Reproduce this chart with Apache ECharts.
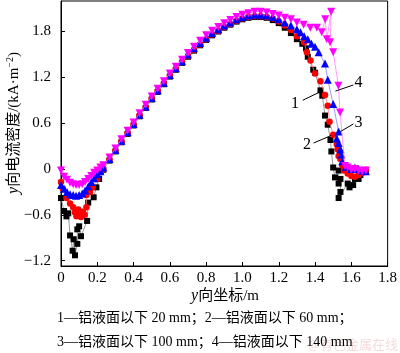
<!DOCTYPE html>
<html><head><meta charset="utf-8">
<script src="https://cdn.jsdelivr.net/npm/echarts@6/dist/echarts.min.js"></script>
<style>html,body{margin:0;padding:0;background:#fff}#c{width:400px;height:353px}</style>
</head><body><div id="c"></div>
<script>
// x tick labels & y tick labels
const xTicks = [0, 0.2, 0.4, 0.6, 0.8, 1.0, 1.2, 1.4, 1.6, 1.8];
const yTicks = [-1.2, -0.6, 0, 0.6, 1.2, 1.8];
const seriesNames = ['1', '2', '3', '4'];
const legendLines = ['1—铝液面以下 20 mm；2—铝液面以下 60 mm；', '3—铝液面以下 100 mm；4—铝液面以下 140 mm'];

// shared x positions of the main (smooth) part
const mainX = [0.267,0.300,0.333,0.367,0.400,0.433,0.467,0.500,0.533,0.567,0.600,0.633,0.667,0.700,0.733,0.767,0.800,0.833,0.867,0.900,0.933,0.967,1.000,1.033,1.067,1.100,1.133,1.167,1.200,1.233,1.267];

// series 1 (20 mm)
const dip1X = [0.000,0.017,0.030,0.040,0.050,0.064,0.070,0.077,0.090,0.090,0.100,0.110,0.144,0.150,0.180,0.195,0.210,0.233];
const dip1Y = [-0.38,-0.55,-0.62,-0.58,-0.87,-1.07,-0.92,-1.13,-0.98,-0.79,-0.75,-0.88,-0.68,-0.44,-0.37,-0.24,-0.13,-0.01];
const main1Y = [0.11,0.23,0.35,0.46,0.57,0.69,0.80,0.91,1.01,1.11,1.21,1.30,1.39,1.47,1.55,1.62,1.69,1.75,1.80,1.85,1.89,1.93,1.96,1.98,1.99,1.99,1.98,1.95,1.91,1.85,1.78];
const tail1X = [1.300,1.330,1.350,1.360,1.390,1.400,1.430,1.440,1.455,1.470,1.485,1.490,1.500,1.510,1.530,1.530,1.540,1.540,1.530,1.580,1.590,1.610,1.620,1.640,1.650,1.670,1.680];
const tail1Y = [1.70,1.64,1.58,1.47,1.30,1.26,1.03,0.96,0.70,0.58,0.38,0.23,0.02,-0.11,-0.02,-0.19,-0.13,-0.30,-0.38,-0.19,-0.24,-0.21,-0.13,-0.13,-0.08,-0.04,-0.02];

// series 2 (60 mm)
const dip2X = [0.000,0.010,0.030,0.050,0.067,0.077,0.085,0.095,0.100,0.110,0.120,0.130,0.140,0.140,0.160,0.175,0.200,0.220,0.233];
const dip2Y = [-0.17,-0.26,-0.38,-0.45,-0.50,-0.57,-0.62,-0.53,-0.60,-0.63,-0.56,-0.60,-0.50,-0.34,-0.30,-0.24,-0.13,-0.04,0.00];
const main2Y = [0.12,0.24,0.36,0.47,0.58,0.70,0.81,0.92,1.02,1.12,1.22,1.31,1.40,1.48,1.56,1.63,1.70,1.76,1.81,1.86,1.90,1.94,1.97,1.99,2.00,2.00,1.99,1.97,1.93,1.88,1.82];
const tail2X = [1.300,1.340,1.355,1.375,1.400,1.430,1.455,1.470,1.480,1.500,1.520,1.525,1.530,1.540,1.550,1.560,1.580,1.600,1.620,1.640,1.660,1.680];
const tail2Y = [1.74,1.66,1.53,1.42,1.25,1.15,0.97,0.83,0.62,0.45,0.32,0.26,0.17,0.13,0.05,-0.02,-0.06,-0.09,-0.10,-0.08,-0.05,-0.01];

// series 3 (100 mm)
const dip3X = [0.000,0.017,0.033,0.050,0.067,0.083,0.100,0.117,0.133,0.150,0.167,0.183,0.200,0.217,0.233];
const dip3Y = [-0.21,-0.26,-0.30,-0.33,-0.34,-0.35,-0.34,-0.32,-0.28,-0.23,-0.17,-0.12,-0.07,-0.03,0.02];
const main3Y = [0.13,0.25,0.37,0.48,0.59,0.71,0.82,0.93,1.03,1.13,1.23,1.32,1.41,1.50,1.58,1.65,1.72,1.78,1.83,1.88,1.92,1.96,1.99,2.01,2.02,2.02,2.01,1.99,1.96,1.92,1.88];
const tail3X = [1.300,1.320,1.340,1.360,1.380,1.400,1.420,1.455,1.470,1.500,1.530,1.520,1.530,1.540,1.545,1.550,1.570,1.600,1.620,1.640,1.660,1.680];
const tail3Y = [1.83,1.79,1.74,1.70,1.64,1.60,1.53,1.38,1.17,0.85,0.49,0.40,0.34,0.26,0.19,0.10,0.03,0.00,0.02,0.00,-0.02,-0.03];

// series 4 (140 mm)
const dip4X = [0.000,0.017,0.033,0.050,0.067,0.083,0.100,0.117,0.133,0.150,0.167,0.183,0.200,0.217,0.233];
const dip4Y = [-0.02,-0.10,-0.14,-0.18,-0.20,-0.21,-0.21,-0.20,-0.17,-0.13,-0.09,-0.05,-0.02,0.02,0.05];
const main4Y = [0.15,0.27,0.39,0.50,0.61,0.73,0.84,0.95,1.05,1.15,1.25,1.34,1.43,1.52,1.60,1.68,1.75,1.81,1.86,1.91,1.95,1.99,2.02,2.04,2.06,2.06,2.05,2.03,2.01,1.98,1.96];
const tail4X = [1.300,1.337,1.374,1.410,1.437,1.456,1.465,1.489,1.483,1.500,1.529,1.538,1.565,1.580,1.600,1.620,1.640,1.660,1.680];
const tail4Y = [1.92,1.89,1.85,1.85,1.79,1.96,1.70,2.06,1.66,1.53,1.09,0.74,0.04,0.02,-0.01,0.00,-0.02,-0.03,-0.02];

// annotation labels (data coords): [text, textX,textY, lineX1,lineY1, lineX2,lineY2]
const annos = [
  ['1', 1.290, 0.85, 1.332, 0.90, 1.419, 1.00],
  ['4', 1.640, 1.13, 1.611, 1.10, 1.512, 1.02],
  ['3', 1.640, 0.60, 1.611, 0.59, 1.540, 0.49],
  ['2', 1.355, 0.32, 1.392, 0.34, 1.490, 0.44]
];

function build(dx, dy, my, tx, ty) {
  const d = [];
  dx.forEach((x, i) => d.push([x, dy[i]]));
  mainX.forEach((x, i) => d.push([x, my[i]]));
  tx.forEach((x, i) => d.push([x, ty[i]]));
  return d;
}
const data = [
  build(dip1X, dip1Y, main1Y, tail1X, tail1Y),
  build(dip2X, dip2Y, main2Y, tail2X, tail2Y),
  build(dip3X, dip3Y, main3Y, tail3X, tail3Y),
  build(dip4X, dip4Y, main4Y, tail4X, tail4Y)
];
const markColors = ['#000000', '#ff0000', '#0000ff', '#ff00ff'];
const lineColors = ['#808080', '#ff8080', '#8080ff', '#ff80ff'];
const symbols = ['rect', 'circle', 'triangle', 'triangle'];
const symSizes = [6, 6.5, 8, 8];
const symRot = [0, 0, 0, 180];

const FONT = '"Liberation Serif","Times New Roman","Noto Sans CJK SC",serif';
const chart = echarts.init(document.getElementById('c'), null, {renderer: 'canvas'});
const fmt = v => (Math.abs(v) < 1e-9 ? '0' : (v < 0 ? '−' + Math.abs(v).toFixed(1) : v.toFixed(1)));

chart.setOption({
  animation: false,
  grid: {left: 61, right: 10, top: 1, bottom: 87, show: true, borderColor: '#000', borderWidth: 1, backgroundColor: 'transparent'},
  xAxis: {
    type: 'value', min: 0, max: 1.8, interval: 0.2,
    axisLine: {onZero: false, lineStyle: {color: '#000', width: 1}},
    axisTick: {inside: true, length: 4, lineStyle: {color: '#000'}},
    axisLabel: {color: '#000', fontFamily: FONT, fontSize: 15, margin: 5, formatter: v => (Math.abs(v) < 1e-9 ? '0' : v.toFixed(1))},
    splitLine: {show: false}
  },
  yAxis: {
    type: 'value', min: -1.27, max: 2.2,
    axisLine: {onZero: false, lineStyle: {color: '#000', width: 1}},
    axisTick: {inside: true, length: 4, lineStyle: {color: '#000'}, customValues: yTicks},
    axisLabel: {color: '#000', fontFamily: FONT, fontSize: 15, margin: 10, customValues: yTicks, formatter: fmt},
    splitLine: {show: false}
  },
  series: data.map((d, i) => ({
    name: seriesNames[i], type: 'line', data: d,
    symbol: symbols[i], symbolSize: symSizes[i], symbolRotate: symRot[i],
    showAllSymbol: true,
    itemStyle: {color: markColors[i], borderWidth: 0},
    lineStyle: {color: lineColors[i], width: 0.8},
    z: 2 + i
  }))
});

const gfx = [];
annos.forEach(a => {
  const t = chart.convertToPixel({gridIndex: 0}, [a[1], a[2]]);
  const p1 = chart.convertToPixel({gridIndex: 0}, [a[3], a[4]]);
  const p2 = chart.convertToPixel({gridIndex: 0}, [a[5], a[6]]);
  gfx.push({type: 'line', shape: {x1: p1[0], y1: p1[1], x2: p2[0], y2: p2[1]}, style: {stroke: '#000', lineWidth: 1}, z: 10});
  gfx.push({type: 'text', x: t[0], y: t[1], z: 10, style: {text: a[0], font: '16px ' + FONT, fill: '#000', align: 'center', verticalAlign: 'middle'}});
});
// y axis title
gfx.push({
  type: 'text', x: 14, y: 123, rotation: Math.PI / 2, z: 10,
  style: {
    text: '{i|y}{n|向电流密度/(kA·m}{s|−2}{n|)}', align: 'center', verticalAlign: 'middle',
    rich: {
      i: {fontFamily: FONT, fontSize: 16, fontStyle: 'italic', fill: '#000'},
      n: {fontFamily: FONT, fontSize: 15, fill: '#000'},
      s: {fontFamily: FONT, fontSize: 10, fill: '#000', padding: [0, 0, 8, 0]}
    }
  }
});
// x axis title
gfx.push({
  type: 'text', x: 225, y: 296, z: 10,
  style: {
    text: '{i|y}{n|向坐标/m}', align: 'center', verticalAlign: 'middle',
    rich: {
      i: {fontFamily: FONT, fontSize: 16, fontStyle: 'italic', fill: '#000'},
      n: {fontFamily: FONT, fontSize: 15, fill: '#000'}
    }
  }
});
legendLines.forEach((s, i) => {
  gfx.push({type: 'text', x: 57, y: 318 + i * 24, z: 10, style: {text: s, font: '14px ' + FONT, fill: '#000', align: 'left', verticalAlign: 'middle'}});
});
gfx.push({type: 'text', x: 398, y: 344, z: 9, style: {text: '@有色金属在线', font: '13px "Noto Sans CJK SC",sans-serif', fill: 'rgba(230,150,150,0.35)', align: 'right', verticalAlign: 'middle'}});
chart.setOption({graphic: gfx});
</script>
</body></html>
